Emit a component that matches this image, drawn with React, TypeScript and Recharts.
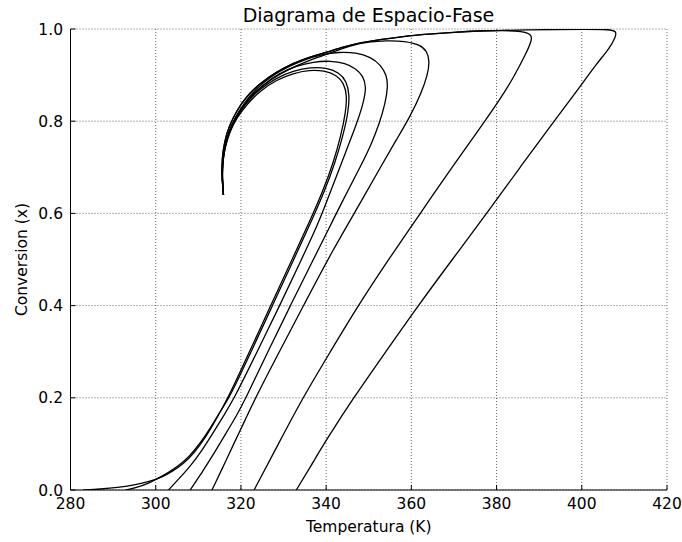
import { CartesianGrid, Line, LineChart, XAxis, YAxis } from "recharts"

type Pt = [number, number]

const xTicks = [280, 300, 320, 340, 360, 380, 400, 420]
const yTicks = [0, 0.2, 0.4, 0.6, 0.8, 1.0]

const run283: Pt[] = [
  [283, 0], [287, 0.002], [291, 0.005], [295, 0.011], [298.5, 0.018], [301.5, 0.028],
  [304, 0.041], [306.5, 0.057], [309, 0.08], [311.5, 0.111], [314, 0.15], [317, 0.2],
  [322, 0.3], [327, 0.4], [332, 0.5], [336.5, 0.59], [339.3, 0.65], [341.7, 0.71],
  [343.5, 0.77], [344.6, 0.82], [344.9, 0.855], [344.2, 0.882], [342.5, 0.9], [339.5, 0.91],
  [336, 0.911], [332.3, 0.904], [328.4, 0.89], [324.5, 0.866], [321.4, 0.837], [319, 0.807],
  [317.4, 0.778], [316.3, 0.745], [315.7, 0.71], [315.6, 0.675], [315.9, 0.64],
]

const run293: Pt[] = [
  [293, 0], [295.5, 0.005], [298, 0.013], [300.5, 0.025], [303, 0.038], [305.5, 0.053],
  [308, 0.074], [310.5, 0.102], [313, 0.137], [315.5, 0.176], [317.3, 0.2], [322.4, 0.3],
  [327.4, 0.4], [332.4, 0.5], [336.9, 0.59], [339.7, 0.65], [342.1, 0.71], [344, 0.77],
  [345.2, 0.82], [345.5, 0.857], [344.8, 0.887], [343, 0.906], [340, 0.916], [336.3, 0.917],
  [332.3, 0.909], [328.3, 0.894], [324.4, 0.87], [321.2, 0.84], [318.8, 0.809], [317.2, 0.778],
  [316.2, 0.745], [315.7, 0.71], [315.6, 0.675], [315.9, 0.64],
]

const run303: Pt[] = [
  [303, 0], [305.5, 0.025], [308.1, 0.051], [311, 0.088], [313.5, 0.124], [316, 0.162],
  [318.5, 0.2], [323.8, 0.3], [329.1, 0.4], [334.2, 0.5], [338, 0.575], [340.3, 0.63],
  [342.8, 0.69], [345.3, 0.75], [347.4, 0.8], [348.9, 0.845], [349.4, 0.875], [348.7, 0.898],
  [347, 0.914], [344.5, 0.926], [341, 0.931], [337, 0.929], [333, 0.92], [329, 0.904],
  [325.3, 0.88], [322.2, 0.852], [319.7, 0.82], [317.8, 0.788], [316.5, 0.755], [315.8, 0.72],
  [315.6, 0.685], [315.9, 0.64],
]

const run308: Pt[] = [
  [308.1, 0], [310.5, 0.033], [312.8, 0.066], [316.3, 0.12], [319.2, 0.165], [321.2, 0.2],
  [326.3, 0.3], [331.6, 0.4], [337, 0.5], [340.8, 0.57], [344, 0.63], [348.3, 0.706],
  [350.6, 0.75], [352.5, 0.795], [353.9, 0.84], [354.5, 0.875], [354.2, 0.9], [352.8, 0.922],
  [350.5, 0.939], [347, 0.949], [343, 0.95], [339, 0.945], [335, 0.934], [331, 0.918],
  [327, 0.897], [323.5, 0.87], [320.6, 0.838], [318.4, 0.805], [316.9, 0.772], [316, 0.738],
  [315.6, 0.705], [315.6, 0.672], [315.9, 0.64],
]

const run313: Pt[] = [
  [313.2, 0], [315.8, 0.05], [318.3, 0.1], [320.9, 0.15], [323.4, 0.2], [329, 0.3],
  [334.7, 0.4], [341.5, 0.52], [348.5, 0.63], [353.1, 0.706], [356.5, 0.76], [359.7, 0.81],
  [362.3, 0.86], [363.8, 0.9], [364.3, 0.93], [363.7, 0.952], [362, 0.966], [358.5, 0.974],
  [354, 0.975], [350, 0.972], [346, 0.965], [341, 0.948], [336, 0.932], [331, 0.912],
  [326.5, 0.888], [322.7, 0.859], [319.9, 0.826], [317.9, 0.793], [316.6, 0.758], [315.8, 0.724],
  [315.6, 0.69], [315.7, 0.662], [315.9, 0.64],
]

const run323: Pt[] = [
  [323.1, 0], [328.8, 0.1], [334.5, 0.2], [341, 0.3], [347.5, 0.4], [355, 0.505],
  [362.1, 0.6], [369.5, 0.7], [376.5, 0.79], [381, 0.85], [384.3, 0.9], [386.8, 0.945],
  [388.3, 0.975], [388.2, 0.989], [386, 0.995], [381.5, 0.997],
]

const run333: Pt[] = [
  [333, 0], [336.6, 0.055], [340, 0.108], [346.4, 0.2], [354, 0.3], [361.6, 0.4],
  [369.6, 0.5], [377.7, 0.6], [385.5, 0.7], [393.5, 0.8], [399.6, 0.875], [403.5, 0.925],
  [406.5, 0.958], [407.9, 0.982], [408.2, 0.995], [406.5, 0.999], [401, 0.9995], [394, 0.999],
  [387, 0.998], [381.5, 0.997],
]

// outer arc both hot runs share on the way back to the steady state
const returnArc: Pt[] = [
  [376, 0.996], [370, 0.993], [364, 0.989], [358, 0.984], [352.5, 0.977], [348, 0.97],
  [344, 0.961], [340.2, 0.95], [336, 0.939], [332.3, 0.926], [328.3, 0.907], [324.5, 0.882],
  [321.4, 0.855], [319, 0.823], [317.2, 0.789], [316.1, 0.755], [315.6, 0.72], [315.5, 0.69],
  [315.7, 0.662], [315.9, 0.64],
]

const FONT = "'DejaVu Sans', sans-serif"
const toRows = (pts: Pt[]) => pts.map(([T, x]) => ({ T, x }))

const series = [
  run283,
  run293,
  run303,
  run308,
  run313,
  [...run323, ...returnArc],
  [...run333, ...returnArc],
].map(toRows)

const tickFont = { fill: "#000", fontSize: 15.5, fontFamily: FONT }
const blank = () => ""

export default function App() {
  return (
    <div style={{ position: "absolute", left: 0, top: 0, width: 682, height: 542, background: "#fff" }}>
      <div
        style={{
          position: "absolute",
          left: 70.5,
          width: 596,
          top: 4,
          textAlign: "center",
          fontFamily: FONT,
          fontSize: 19,
          color: "#000",
        }}
      >
        Diagrama de Espacio-Fase
      </div>
      <LineChart
        width={682}
        height={542}
        margin={{ top: 29, right: 15, bottom: 0, left: 0.5 }}
        style={{ fontFamily: FONT }}
      >
        <CartesianGrid stroke="#000" strokeWidth={0.6} strokeDasharray="1 2" />
        <XAxis
          type="number"
          dataKey="T"
          domain={[280, 420]}
          ticks={xTicks}
          interval={0}
          allowDataOverflow
          height={52}
          tickSize={-5}
          tickMargin={13}
          tick={tickFont}
          axisLine={{ stroke: "#000" }}
          tickLine={{ stroke: "#000" }}
          label={{ value: "Temperatura (K)", position: "insideBottom", offset: 10, fill: "#000", fontSize: 15.5 }}
        />
        <XAxis
          xAxisId="top"
          orientation="top"
          type="number"
          domain={[280, 420]}
          ticks={xTicks}
          interval={0}
          allowDataOverflow
          height={0}
          tickSize={-5}
          tickFormatter={blank}
          axisLine={{ stroke: "#000" }}
          tickLine={{ stroke: "#000" }}
        />
        <YAxis
          type="number"
          domain={[0, 1]}
          ticks={yTicks}
          interval={0}
          allowDataOverflow
          width={70}
          tickSize={-5}
          tickMargin={12.5}
          tick={tickFont}
          tickFormatter={(v: number) => v.toFixed(1)}
          axisLine={{ stroke: "#000" }}
          tickLine={{ stroke: "#000" }}
          label={{
            value: "Conversion (x)",
            angle: -90,
            position: "insideLeft",
            offset: 21,
            fill: "#000",
            fontSize: 15.5,
            style: { textAnchor: "middle" },
          }}
        />
        <YAxis
          yAxisId="right"
          orientation="right"
          type="number"
          domain={[0, 1]}
          ticks={yTicks}
          interval={0}
          allowDataOverflow
          width={0}
          tickSize={-5}
          tickFormatter={blank}
          axisLine={{ stroke: "#000" }}
          tickLine={{ stroke: "#000" }}
        />
        {series.map((rows, i) => (
          <Line
            key={i}
            data={rows}
            dataKey="x"
            type="basis"
            stroke="#000"
            strokeWidth={1.3}
            dot={false}
            activeDot={false}
            isAnimationActive={false}
          />
        ))}
      </LineChart>
    </div>
  )
}
